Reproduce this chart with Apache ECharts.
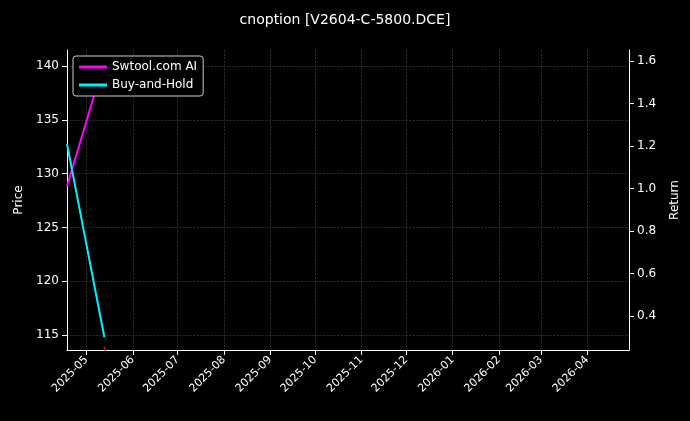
<!DOCTYPE html>
<html>
<head>
<meta charset="utf-8">
<script src="https://cdn.jsdelivr.net/npm/echarts@6/dist/echarts.min.js"></script>
<style>html,body{margin:0;background:#000}#c{width:690px;height:421px}</style>
</head>
<body>
<div id="c"></div>
<script>
// 数据
let aiDates = ['2025-04-18', '2025-05-13'];
let aiValues = [1.01, 1.60];
let bhDates = ['2025-04-18', '2025-05-13'];
let bhValues = [1.21, 0.30];
let priceDates = ['2025-05-13', '2025-05-14'];
let priceValues = [113.9, 110];
let monthTicks = ['2025-05', '2025-06', '2025-07', '2025-08', '2025-09', '2025-10', '2025-11', '2025-12', '2026-01', '2026-02', '2026-03', '2026-04'];

let ts = s => Date.UTC(+s.slice(0, 4), +s.slice(5, 7) - 1, s.length > 7 ? +s.slice(8, 10) : 1);
let zip = (d, v) => d.map((x, i) => [ts(x), v[i]]);
let monthTs = monthTicks.map(ts);
let txt = '#fff';
let gridLine = { show: true, lineStyle: { color: '#444', type: 'dashed', width: 0.6 } };

let chart = echarts.init(document.getElementById('c'));
chart.setOption({
    backgroundColor: '#000',
    animation: false,
    title: {
        text: 'cnoption [V2604-C-5800.DCE]', left: 'center', top: 8,
        textStyle: { color: txt, fontSize: 14, fontWeight: 'normal', fontFamily: 'DejaVu Sans' }
    },
    legend: {
        left: 73, top: 56, orient: 'vertical', itemGap: 6,
        backgroundColor: '#000', borderColor: '#ccc', borderWidth: 1, borderRadius: 3, padding: [5, 6],
        itemWidth: 28, itemHeight: 3, icon: 'rect',
        textStyle: { color: txt, fontSize: 12, fontFamily: 'DejaVu Sans' },
        data: ['Swtool.com AI', 'Buy-and-Hold']
    },
    grid: { left: 67, right: 61, top: 50, bottom: 71 },
    xAxis: {
        type: 'value',
        min: ts('2025-04-18'), max: ts('2026-04-29'),
        axisLine: { lineStyle: { color: '#fff' } },
        axisTick: { show: true, customValues: monthTs, lineStyle: { color: '#fff' } },
        splitLine: gridLine,
        axisLabel: {
            color: txt, rotate: 45, fontSize: 11, fontFamily: 'DejaVu Sans',
            customValues: monthTs,
            formatter: v => { let d = new Date(v); return d.getUTCFullYear() + '-' + String(d.getUTCMonth() + 1).padStart(2, '0'); }
        }
    },
    yAxis: [{
        type: 'value', name: 'Price', nameLocation: 'middle', nameGap: 38,
        nameTextStyle: { color: txt, fontSize: 12, fontFamily: 'DejaVu Sans' },
        min: 113.6, max: 141.5,
        axisLabel: { color: txt, fontSize: 12, fontFamily: 'DejaVu Sans',
            customValues: [115, 120, 125, 130, 135, 140] },
        axisTick: { show: true, customValues: [115, 120, 125, 130, 135, 140] },
        axisLine: { show: true, lineStyle: { color: '#fff' } },
        splitLine: gridLine
    }, {
        type: 'value', name: 'Return', nameLocation: 'middle', nameGap: 40,
        nameTextStyle: { color: txt, fontSize: 12, fontFamily: 'DejaVu Sans' },
        min: 0.24, max: 1.652,
        axisLabel: { color: txt, fontSize: 12, fontFamily: 'DejaVu Sans',
            customValues: [0.4, 0.6, 0.8, 1.0, 1.2, 1.4, 1.6], formatter: v => v.toFixed(1) },
        axisTick: { show: true, customValues: [0.4, 0.6, 0.8, 1.0, 1.2, 1.4, 1.6] },
        axisLine: { show: true, lineStyle: { color: '#fff' } },
        splitLine: { show: false }
    }],
    series: [{
        name: 'Price', type: 'line', yAxisIndex: 0, data: zip(priceDates, priceValues),
        showSymbol: false, lineStyle: { color: '#d01030', width: 1.5 }, itemStyle: { color: '#d01030' }
    }, {
        name: 'Swtool.com AI', type: 'line', yAxisIndex: 1, data: zip(aiDates, aiValues),
        showSymbol: false, lineStyle: { color: '#ff00ff', width: 2 }, itemStyle: { color: '#ff00ff' }
    }, {
        name: 'Buy-and-Hold', type: 'line', yAxisIndex: 1, data: zip(bhDates, bhValues),
        showSymbol: false, lineStyle: { color: '#00f0ff', width: 2 }, itemStyle: { color: '#00f0ff' }
    }]
});
</script>
</body>
</html>
